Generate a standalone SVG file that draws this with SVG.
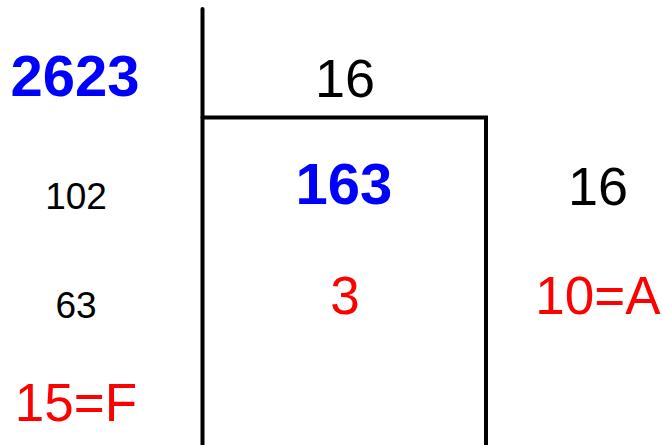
<svg xmlns="http://www.w3.org/2000/svg" width="662" height="445" viewBox="0 0 662 445">
<style>
text{font-family:"Liberation Sans",Arial,sans-serif;text-anchor:middle}
.b{font-weight:bold;fill:#0000ff;font-size:58px}
.k{fill:#000;font-size:54px}
.s{fill:#000;font-size:37px}
.r{fill:#ff0000;font-size:53px}
.ln{stroke:#000;stroke-width:4;fill:none;stroke-linecap:round;stroke-linejoin:miter}
</style>
<rect width="662" height="445" fill="#fff"/>
<g id="connectors">
<path class="ln" d="M202.5,9 V447"/>
<path class="ln" d="M202.5,117.5 H486 V447"/>
</g>
<g id="dividend"><text class="b" x="75" y="96">2623</text></g>
<g id="divisor1"><text class="k" x="345" y="97">16</text></g>
<g id="quotient1"><text class="b" x="344" y="204">163</text></g>
<g id="divisor2"><text class="k" x="598" y="205">16</text></g>
<g id="step1"><text class="s" x="76" y="209">102</text></g>
<g id="step2"><text class="s" x="76" y="318">63</text></g>
<g id="remainder1"><text class="r" x="76" y="421">15=F</text></g>
<g id="remainder2"><text class="r" x="345" y="314">3</text></g>
<g id="remainder3"><text class="r" x="598" y="314">10=A</text></g>
</svg>
